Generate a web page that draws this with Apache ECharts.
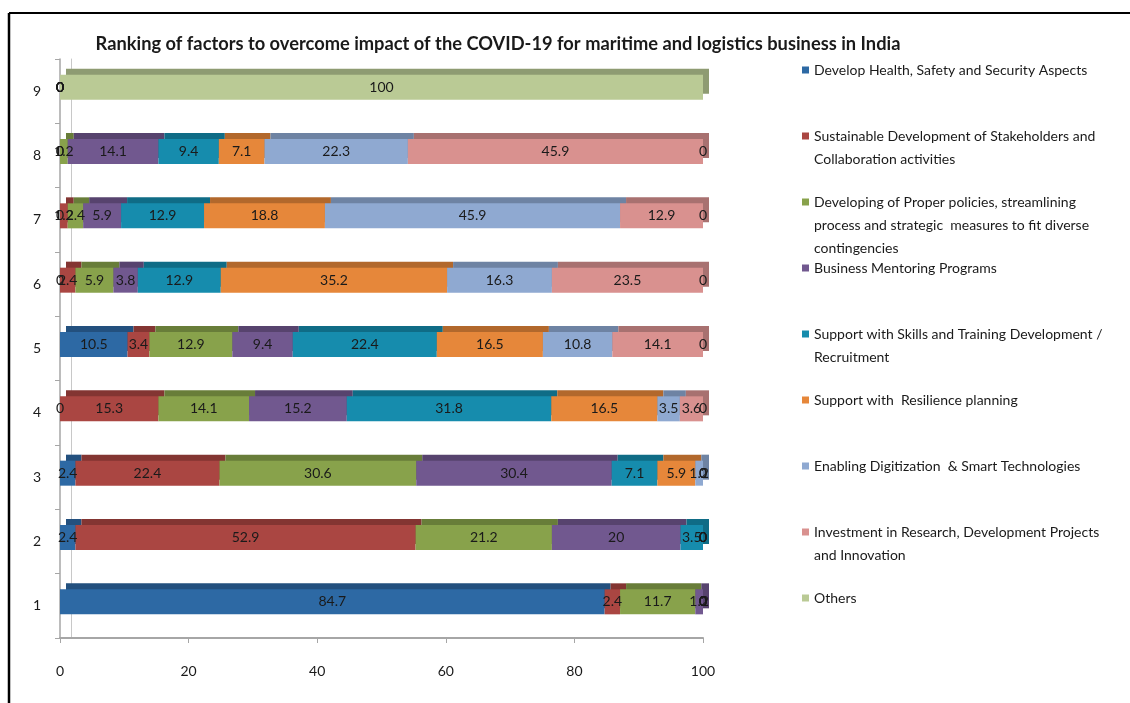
<!DOCTYPE html>
<html>
<head>
<meta charset="utf-8">
<script src="https://cdn.jsdelivr.net/npm/echarts@6/dist/echarts.min.js"></script>
<style>html,body{margin:0;padding:0;background:#fff;}#chart{width:1130px;height:703px;}</style>
</head>
<body>
<div id="chart"></div>
<script>
// ---- Data ----
const ranks = ['1', '2', '3', '4', '5', '6', '7', '8', '9'];
const xTicks = [0, 20, 40, 60, 80, 100];
const seriesNames = [
  'Develop Health, Safety and Security Aspects',
  'Sustainable Development of Stakeholders and Collaboration activities',
  'Developing of Proper policies, streamlining process and strategic  measures to fit diverse contingencies',
  'Business Mentoring Programs',
  'Support with Skills and Training Development / Recruitment',
  'Support with  Resilience planning',
  'Enabling Digitization  & Smart Technologies',
  'Investment in Research, Development Projects and Innovation',
  'Others'
];
const legendLabels = [
  'Develop Health, Safety and Security Aspects',
  'Sustainable Development of Stakeholders and\nCollaboration activities',
  'Developing of Proper policies, streamlining\nprocess and strategic  measures to fit diverse\ncontingencies',
  'Business Mentoring Programs',
  'Support with Skills and Training Development /\nRecruitment',
  'Support with  Resilience planning',
  'Enabling Digitization  & Smart Technologies',
  'Investment in Research, Development Projects\nand Innovation',
  'Others'
];
const health       = [84.7, 2.4, 2.4, 0, 10.5, 0, 0, 0, 0];
const sustainable  = [2.4, 52.9, 22.4, 15.3, 3.4, 2.4, 1.2, 0, 0];
const policies     = [11.7, 21.2, 30.6, 14.1, 12.9, 5.9, 2.4, 1.2, 0];
const mentoring    = [1.2, 20, 30.4, 15.2, 9.4, 3.8, 5.9, 14.1, 0];
const skills       = [0, 3.5, 7.1, 31.8, 22.4, 12.9, 12.9, 9.4, 0];
const resilience   = [0, 0, 5.9, 16.5, 16.5, 35.2, 18.8, 7.1, 0];
const digitization = [0, 0, 1.2, 3.5, 10.8, 16.3, 45.9, 22.3, 0];
const investment   = [0, 0, 0, 3.6, 14.1, 23.5, 12.9, 45.9, 0];
const others       = [0, 0, 0, 0, 0, 0, 0, 0, 100];
const allValues = [health, sustainable, policies, mentoring, skills, resilience, digitization, investment, others];

// ---- Styles ----
const frontColors = ['#2D69A4', '#AA4642', '#88A24B', '#71588F', '#168CAD', '#E6873A', '#8FA9D1', '#D9918F', '#BACA95'];
const topColors   = ['#23507E', '#833532', '#687D39', '#57436E', '#0F6C86', '#B2682C', '#6E83A3', '#A87170', '#8E9B72'];
const FONT = 'Lato, "Open Sans", sans-serif';

const chart = echarts.init(document.getElementById('chart'), null, {renderer: 'canvas'});

const series = allValues.map((vals, i) => ({
  name: seriesNames[i],
  type: 'bar',
  stack: 'total',
  xAxisIndex: 1,
  yAxisIndex: 2,
  barWidth: 25,
  data: vals,
  itemStyle: {
    color: frontColors[i],
    shadowColor: topColors[i],
    shadowBlur: 0,
    shadowOffsetX: 6,
    shadowOffsetY: -6
  },
  label: {
    show: true,
    position: 'inside',
    color: '#1a1a1a',
    fontFamily: FONT,
    fontSize: 14
  },
  emphasis: {disabled: true}
}));

const LINE_H = 23;
const legendTop0 = 70;
const legendStep = 66;
const legends = seriesNames.map((n, i) => {
  const lines = legendLabels[i].split('\n').length;
  const prefix = ' \n'.repeat(lines - 1);
  return {
    data: [n],
    orient: 'vertical',
    left: 802,
    top: legendTop0 + i * legendStep - LINE_H / 2 - (lines - 1) * LINE_H,
    padding: 0,
    itemWidth: 7,
    itemHeight: 7,
    icon: 'rect',
    selectedMode: false,
    formatter: () => prefix + legendLabels[i],
    textStyle: {
      fontFamily: FONT,
      fontSize: 14,
      color: '#1a1a1a',
      lineHeight: LINE_H
    }
  };
});

const option = {
  animation: false,
  backgroundColor: '#ffffff',
  color: frontColors,
  title: {
    text: 'Ranking of factors to overcome impact of the COVID-19 for maritime and logistics business in India',
    left: 493,
    textAlign: 'center',
    top: 30,
    textStyle: {fontFamily: FONT, fontWeight: 'bold', fontSize: 18.3, color: '#1a1a1a'}
  },
  legend: legends,
  grid: [
    {left: 60, right: 427, top: 59, bottom: 65},
    {left: 60, right: 427, top: 55, bottom: 69}
  ],
  xAxis: [
    {
      gridIndex: 0, type: 'value', min: 0, max: 100, interval: 20,
      axisLine: {show: true, lineStyle: {color: '#A6A6A6', width: 2}},
      axisTick: {show: true, length: 5, lineStyle: {color: '#A6A6A6'}},
      axisLabel: {margin: 26, color: '#1a1a1a', fontFamily: FONT, fontSize: 14,
        formatter: v => (xTicks.indexOf(v) >= 0 ? String(v) : '')},
      splitLine: {show: false}
    },
    {
      gridIndex: 1, type: 'value', min: 0, max: 100, show: false
    }
  ],
  yAxis: [
    {
      gridIndex: 0, type: 'category', data: ranks, offset: 7,
      axisLine: {show: true, lineStyle: {color: '#A6A6A6', width: 1.5}},
      axisTick: {show: true, length: 5, lineStyle: {color: '#A6A6A6'}},
      axisLabel: {margin: 12, color: '#1a1a1a', fontFamily: FONT, fontSize: 14}
    },
    {
      gridIndex: 0, type: 'category', data: ranks, offset: -11, position: 'left',
      axisLine: {show: true, lineStyle: {color: '#C8C8C8', width: 1}},
      axisTick: {show: false}, axisLabel: {show: false}
    },
    {
      gridIndex: 1, type: 'category', data: ranks, show: false
    }
  ],
  graphic: [
    {type: 'line', shape: {x1: 9, y1: 13, x2: 1130, y2: 13}, style: {stroke: '#000', lineWidth: 2}},
    {type: 'line', shape: {x1: 9, y1: 13, x2: 9, y2: 703}, style: {stroke: '#000', lineWidth: 2.5}}
  ],
  series: series
};

chart.setOption(option);
</script>
</body>
</html>
